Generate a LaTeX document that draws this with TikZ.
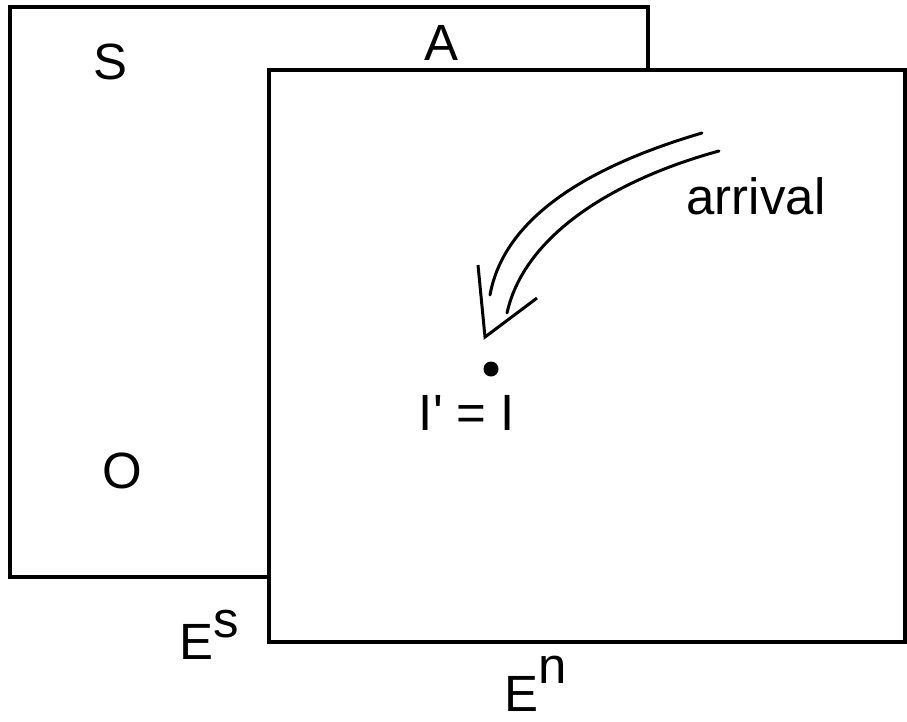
\documentclass[tikz,border=0pt]{standalone}
\usepackage{fontspec}
\setmainfont{Liberation Sans}
\begin{document}
\begin{tikzpicture}[x=0.02cm,y=-0.02cm,line join=miter]
  \tikzset{
    sheet/.style={draw,line width=2.3pt,fill=white},
    lbl/.style={inner sep=0pt,font=\fontsize{29}{32}\selectfont},
    flow/.style={line width=1.7pt,line cap=round}
  }
  \useasboundingbox (0,0) rectangle (907,721);
  % back sheet E^s
  \draw[sheet] (10,7) rectangle (648,577);
  \node[lbl] (S) at (110,62) {S};
  \node[lbl] (A) at (441,43) {A};
  \node[lbl] (O) at (122,471) {O};
  \node[lbl,anchor=base west] (Es) at (179,659) {E\raisebox{0.44cm}{s}};
  % front sheet E^n
  \draw[sheet] (269,70) rectangle (905,642);
  \node[lbl,anchor=base west] (En) at (504,711) {E\raisebox{0.56cm}{n}};
  \node[lbl] (arrival) at (756,196) {arrival};
  \fill (491,369) circle (7.5);
  \node[lbl] (I) at (467,413) {I\textquotesingle{} = I};
  % double-lined arrow
  \coordinate (outS) at (702,133);
  \coordinate (outE) at (490,295);
  \coordinate (inS) at (719,151);
  \coordinate (inE) at (507,313);
  \coordinate (tip) at (485,337);
  \draw[flow] (outS) .. controls (600,163) and (505,212) .. (outE);
  \draw[flow] (inS) .. controls (620,178) and (525,232) .. (inE);
  \draw[flow,line cap=butt] (478,265) -- (tip) -- (537,298);
\end{tikzpicture}
\end{document}
